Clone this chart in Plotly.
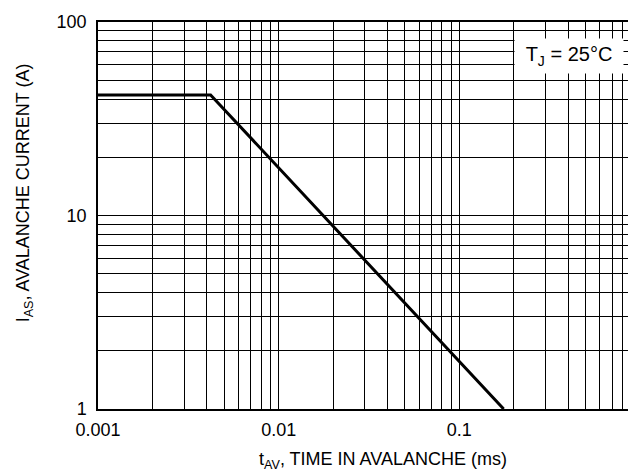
import plotly.graph_objects as go

# Data
t_av = [0.001, 0.0042, 0.176]        # ms
i_as = [42, 42, 1]                   # A

x_major = [0.001, 0.01, 0.1, 1]
x_major_text = ["0.001", "0.01", "0.1", "1"]
y_major = [1, 10, 100]
y_major_text = ["1", "10", "100"]

x_minor = [m * d for d in [0.001, 0.01, 0.1] for m in range(2, 10)]
y_minor = [m * d for d in [1, 10] for m in range(2, 10)]

FONT = "Liberation Sans, Arial, Helvetica, sans-serif"

fig = go.Figure()
fig.add_trace(go.Scatter(
    x=t_av, y=i_as, mode="lines",
    line=dict(color="black", width=3),
    showlegend=False, hoverinfo="skip",
))

axis_common = dict(
    type="log",
    showline=True, mirror=True, linecolor="black", linewidth=1.5,
    showgrid=True, gridcolor="black", gridwidth=1.3,
    ticks="", zeroline=False,
    tickfont=dict(family=FONT, size=18, color="black"),
)

fig.update_xaxes(
    **axis_common,
    range=[-3, 0],
    tickmode="array", tickvals=x_major, ticktext=x_major_text,
    minor=dict(tickmode="array", tickvals=x_minor, showgrid=True,
               gridcolor="black", gridwidth=1, ticks=""),
    ticklabelstandoff=4,
)
fig.update_yaxes(
    **axis_common,
    range=[0, 2],
    tickmode="array", tickvals=y_major, ticktext=y_major_text,
    minor=dict(tickmode="array", tickvals=y_minor, showgrid=True,
               gridcolor="black", gridwidth=1, ticks=""),
    ticklabelstandoff=6,
)

fig.add_annotation(
    text="t<sub>AV</sub>, TIME IN AVALANCHE (ms)",
    xref="paper", yref="paper", x=0.526, y=-0.134,
    xanchor="center", yanchor="middle", showarrow=False,
    font=dict(family=FONT, size=18, color="black"),
)
fig.add_annotation(
    text="I<sub>AS</sub>, AVALANCHE CURRENT (A)",
    xref="paper", yref="paper", x=-0.136, y=0.558,
    xanchor="center", yanchor="middle", textangle=-90, showarrow=False,
    font=dict(family=FONT, size=18, color="black"),
)
fig.add_annotation(
    text="T<sub>J</sub> = 25°C",
    xref="paper", yref="paper", x=0.869, y=0.912,
    xanchor="center", yanchor="middle", showarrow=False,
    bgcolor="white", width=108, height=34, borderpad=0,
    font=dict(family=FONT, size=20, color="black"),
)

fig.update_layout(
    width=636, height=472, autosize=False,
    margin=dict(l=90, r=2, t=14, b=71),
    paper_bgcolor="white", plot_bgcolor="white",
    font=dict(family=FONT, color="black"),
)

fig.write_html("out.html")
